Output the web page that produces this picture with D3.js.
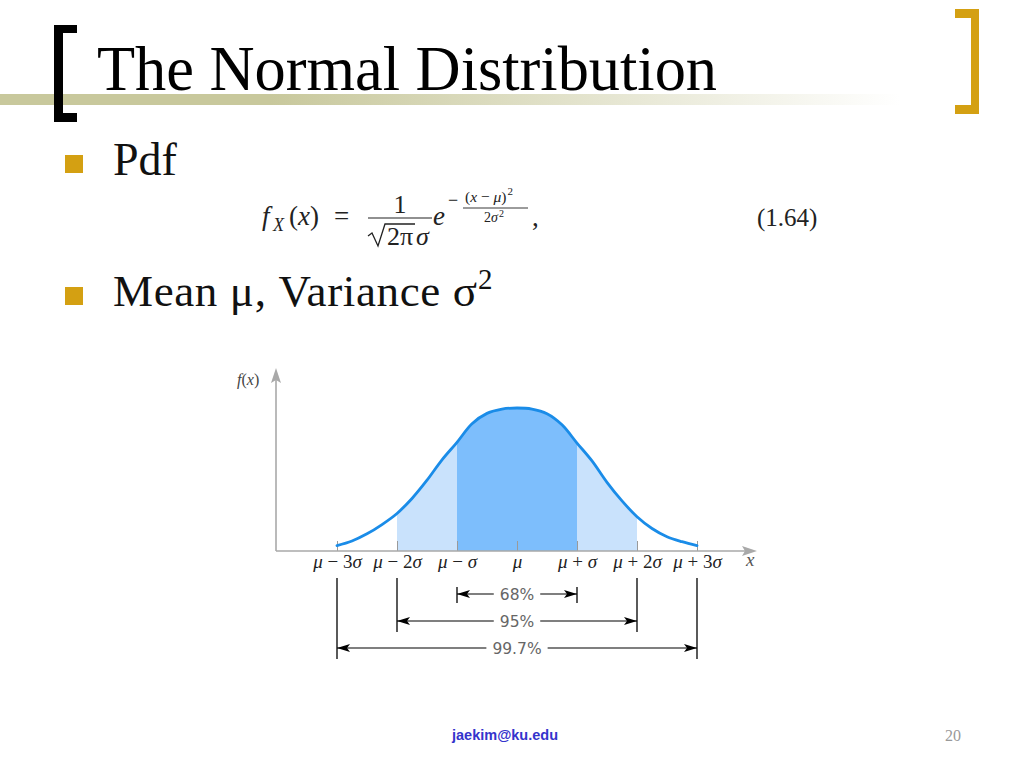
<!DOCTYPE html>
<html><head><meta charset="utf-8">
<script src="https://cdn.jsdelivr.net/npm/d3@7"></script>
<style>html,body{margin:0;padding:0;background:#fff;} svg{display:block}</style>
</head><body>
<svg id="s" width="1024" height="768"></svg>
<script>
// ---- data ----
const titleText = "The Normal Distribution";
const bulletTexts = ["Pdf", "Mean μ, Variance σ"];
const tickValues = [-3, -2, -1, 0, 1, 2, 3];
const tickLabels = ["μ − 3σ", "μ − 2σ", "μ − σ", "μ", "μ + σ", "μ + 2σ", "μ + 3σ"];
const zValues = [-3,-2.75,-2.5,-2.25,-2,-1.75,-1.5,-1.25,-1,-0.75,-0.5,-0.25,0,0.25,0.5,0.75,1,1.25,1.5,1.75,2,2.25,2.5,2.75,3];
const fValues = [0.015,0.028,0.048,0.074,0.105,0.147,0.198,0.255,0.304,0.356,0.385,0.397,0.400,0.397,0.384,0.353,0.302,0.252,0.192,0.140,0.096,0.063,0.040,0.026,0.015];
const bandK = [1, 2, 3];
const bandLabels = ["68%", "95%", "99.7%"];
const footerEmail = "jaekim@ku.edu";
const pageNumber = "20";

const svg = d3.select("#s");
const defs = svg.append("defs");
const serif = "'Liberation Serif','Times New Roman',serif";

// ---- slide decoration ----
const grad = defs.append("linearGradient").attr("id","bar").attr("x1","0").attr("x2","1");
grad.append("stop").attr("offset","0").attr("stop-color","#c8c89c");
grad.append("stop").attr("offset","0.3").attr("stop-color","#c8c89c");
grad.append("stop").attr("offset","1").attr("stop-color","#c8c89c").attr("stop-opacity",0);
svg.append("rect").attr("x",0).attr("y",94).attr("width",900).attr("height",11).attr("fill","url(#bar)");

// left black bracket
svg.append("path").attr("fill","#000")
  .attr("d","M54,25 H77 V33 H63 V113 H77 V122 H54 Z");
// right gold bracket
svg.append("path").attr("fill","#d4a012")
  .attr("d","M955,9 H979 V114 H955 V105 H971 V18 H955 Z");

svg.append("text").attr("x",97).attr("y",90).attr("font-family",serif).attr("font-size",63)
  .attr("textLength",620).attr("lengthAdjust","spacingAndGlyphs").attr("fill","#000").text(titleText);

// bullets
svg.append("rect").attr("x",65).attr("y",155).attr("width",18).attr("height",18).attr("fill","#d4a012");
svg.append("rect").attr("x",65).attr("y",287).attr("width",18).attr("height",18).attr("fill","#d4a012");
svg.append("text").attr("x",113).attr("y",175).attr("font-family",serif).attr("font-size",46)
  .attr("fill","#111").text(bulletTexts[0]);
svg.append("text").attr("x",113).attr("y",306).attr("font-family",serif).attr("font-size",45)
  .attr("textLength",364).attr("lengthAdjust","spacing").attr("fill","#111").text(bulletTexts[1]);
svg.append("text").attr("x",478).attr("y",289).attr("font-family",serif).attr("font-size",29)
  .attr("fill","#111").text("2");

// ---- formula ----
const F = svg.append("g").attr("font-family",serif).attr("fill","#222");
function tx(x,y,s,str,it,anchor){ return F.append("text").attr("x",x).attr("y",y).attr("font-size",s)
  .attr("font-style",it?"italic":"normal").attr("text-anchor",anchor||"start").text(str); }
tx(262,225,27,"f",true);
tx(273,231,18,"X",true);
const p = F.append("text").attr("x",289).attr("y",225).attr("font-size",27);
p.append("tspan").text("(");p.append("tspan").attr("font-style","italic").text("x");p.append("tspan").text(")");
tx(334,225,27,"=");
tx(400,213,26,"1",false,"middle");
F.append("line").attr("x1",368).attr("x2",432).attr("y1",218).attr("y2",218).attr("stroke","#222").attr("stroke-width",1.2);
F.append("path").attr("fill","none").attr("stroke","#222").attr("stroke-width",1.3)
  .attr("d","M368,236 L372,233 L378,246 L385,224 L415,224");
tx(387,245,26,"2π");
tx(416,245,26,"σ",true);
tx(433,225,27,"e",true);
tx(448,206,18,"−");
const n = F.append("text").attr("x",465).attr("y",202).attr("font-size",15.5);
n.append("tspan").text("(");n.append("tspan").attr("font-style","italic").text("x");
n.append("tspan").text(" − ");n.append("tspan").attr("font-style","italic").text("μ");n.append("tspan").text(")");
n.append("tspan").attr("font-size",11).attr("dy",-7).attr("dx",1).text("2");
F.append("line").attr("x1",463).attr("x2",528).attr("y1",208).attr("y2",208).attr("stroke","#222").attr("stroke-width",0.9);
const d2 = F.append("text").attr("x",484).attr("y",222).attr("font-size",14);
d2.append("tspan").text("2");d2.append("tspan").attr("font-style","italic").text("σ");
d2.append("tspan").attr("font-size",10).attr("dy",-5).attr("dx",1).text("2");
tx(532,226,27,",");
tx(757,226,25,"(1.64)");

// ---- chart ----
const x = d3.scaleLinear().domain([-3,3]).range([337,697]);
const y = d3.scaleLinear().domain([0,0.4]).range([551,408]);
const pts = zValues.map((z,i)=>({z, f:fValues[i]}));
const axisColor = "#a9a9a9";
const crv = d3.curveCatmullRom.alpha(0.5);

// fills
[[2,"#c9e2fc","c2"],[1,"#7dbefc","c1"]].forEach(([k,col,id])=>{
  defs.append("clipPath").attr("id",id).append("rect")
    .attr("x",x(-k)).attr("width",x(k)-x(-k)).attr("y",y(0.5)).attr("height",y(0)-y(0.5));
  svg.append("path").datum(pts).attr("clip-path",`url(#${id})`).attr("fill",col)
    .attr("d",d3.area().x(d=>x(d.z)).y0(y(0)).y1(d=>y(d.f)).curve(crv));
});

// axis with upward ticks
const ax = svg.append("g").attr("transform",`translate(0,${y(0)})`)
  .call(d3.axisBottom(x).tickValues(tickValues).tickSizeInner(-10).tickSizeOuter(0).tickPadding(3).tickFormat(""));
ax.select(".domain").remove();
ax.selectAll(".tick line").attr("stroke","#9a9a9a").attr("stroke-width",1);
ax.selectAll(".tick text").each(function(d,i){
  const t = d3.select(this).attr("font-family",serif).attr("font-size",19).attr("fill","#222").text(null);
  for(const ch of tickLabels[i]){
    t.append("tspan").attr("font-style",/[μσ]/.test(ch)?"italic":"normal").text(ch);
  }
});

// axis lines with arrows
const x0 = 276, xEnd = 757, yTop = 368;
svg.append("line").attr("x1",x0).attr("x2",xEnd-12).attr("y1",y(0)).attr("y2",y(0)).attr("stroke",axisColor).attr("stroke-width",1.6);
svg.append("line").attr("x1",x0).attr("x2",x0).attr("y1",y(0)).attr("y2",yTop+12).attr("stroke",axisColor).attr("stroke-width",1.6);
svg.append("path").attr("fill",axisColor).attr("d",`M${xEnd},${y(0)} L${xEnd-15},${y(0)-5} L${xEnd-12},${y(0)} L${xEnd-15},${y(0)+5} Z`);
svg.append("path").attr("fill",axisColor).attr("d",`M${x0},${yTop} L${x0-5},${yTop+15} L${x0},${yTop+12} L${x0+5},${yTop+15} Z`);
const fl = svg.append("text").attr("x",237).attr("y",385).attr("font-family",serif).attr("font-size",16).attr("fill","#444");
fl.append("tspan").attr("font-style","italic").text("f");fl.append("tspan").text("(");
fl.append("tspan").attr("font-style","italic").text("x");fl.append("tspan").text(")");
svg.append("text").attr("x",746).attr("y",566).attr("font-family",serif).attr("font-style","italic").attr("font-size",19).attr("fill","#555").text("x");

// curve
svg.append("path").datum(pts).attr("fill","none").attr("stroke","#1a8ce8").attr("stroke-width",2.8)
  .attr("stroke-linecap","round")
  .attr("d",d3.line().x(d=>x(d.z)).y(d=>y(d.f)).curve(crv));

// ---- dimension lines ----
defs.append("marker").attr("id","arr").attr("markerUnits","userSpaceOnUse")
  .attr("markerWidth",14).attr("markerHeight",8).attr("refX",13).attr("refY",4).attr("orient","auto")
  .append("path").attr("d","M0,0 L13,4 L0,8 L3,4 Z").attr("fill","#000");
bandK.forEach((k,i)=>{
  const ay = 594 + i*27;
  const top = k===1 ? ay-7 : 578;
  const bot = ay + (k===1 ? 9 : 11);
  [-k,k].forEach(s=>svg.append("line").attr("x1",x(s)).attr("x2",x(s)).attr("y1",top).attr("y2",bot)
    .attr("stroke","#000").attr("stroke-width",1.3));
  const t = svg.append("text").attr("x",x(0)).attr("y",ay+6).attr("text-anchor","middle")
    .attr("font-family","'DejaVu Sans',sans-serif").attr("font-size",15.5).attr("fill","#666").text(bandLabels[i]);
  const w = t.node().getComputedTextLength()/2 + 6;
  svg.append("line").attr("x1",x(0)-w).attr("x2",x(-k)).attr("y1",ay).attr("y2",ay)
    .attr("stroke","#000").attr("stroke-width",1.2).attr("marker-end","url(#arr)");
  svg.append("line").attr("x1",x(0)+w).attr("x2",x(k)).attr("y1",ay).attr("y2",ay)
    .attr("stroke","#000").attr("stroke-width",1.2).attr("marker-end","url(#arr)");
});

// ---- footer ----
svg.append("text").attr("x",452).attr("y",740).attr("font-family","'Liberation Sans',Arial,sans-serif")
  .attr("font-weight","bold").attr("font-size",14.5).attr("fill","#3434cc").text(footerEmail);
svg.append("text").attr("x",945).attr("y",741).attr("font-family",serif).attr("font-size",16).attr("fill","#999").text(pageNumber);
</script>
</body></html>
